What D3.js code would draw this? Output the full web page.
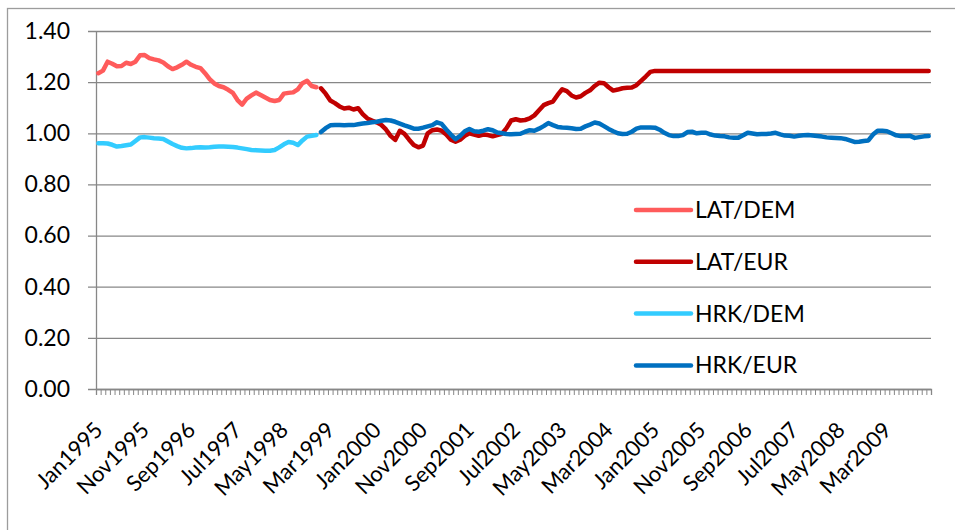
<!DOCTYPE html>
<html>
<head>
<meta charset="utf-8">
<script src="https://cdn.jsdelivr.net/npm/d3@7"></script>
<style>
  body { margin: 0; background: #fff; }
  svg { display: block; font-family: Lato, "Open Sans", sans-serif; }
</style>
</head>
<body>
<div id="chart"></div>
<script>
// monthly index, Jan1995 .. Dec2009 (180 months)
const monthCount = 180;
const tickLabels = ["Jan1995", "Nov1995", "Sep1996", "Jul1997", "May1998", "Mar1999",
  "Jan2000", "Nov2000", "Sep2001", "Jul2002", "May2003", "Mar2004", "Jan2005",
  "Nov2005", "Sep2006", "Jul2007", "May2008", "Mar2009"];
const labelStep = 10;
const yTicks = [0, 0.2, 0.4, 0.6, 0.8, 1.0, 1.2, 1.4];

// Jan1995 - Dec1998
const latDem = [1.235, 1.245, 1.28, 1.272, 1.262, 1.263, 1.276, 1.271, 1.28, 1.305,
  1.306, 1.294, 1.289, 1.285, 1.277, 1.262, 1.251, 1.258, 1.268, 1.28,
  1.268, 1.26, 1.255, 1.235, 1.212, 1.195, 1.185, 1.18, 1.17, 1.158,
  1.13, 1.112, 1.136, 1.148, 1.159, 1.15, 1.14, 1.13, 1.126, 1.13,
  1.155, 1.158, 1.16, 1.172, 1.196, 1.205, 1.185, 1.18];
const hrkDem = [0.961, 0.961, 0.96, 0.955, 0.948, 0.95, 0.953, 0.956, 0.97, 0.984,
  0.985, 0.983, 0.981, 0.98, 0.978, 0.968, 0.958, 0.95, 0.943, 0.941,
  0.942, 0.944, 0.945, 0.944, 0.945, 0.947, 0.948, 0.948, 0.947, 0.946,
  0.944, 0.941, 0.938, 0.935, 0.934, 0.933, 0.932, 0.932, 0.935, 0.945,
  0.957, 0.966, 0.963, 0.954, 0.972, 0.987, 0.99, 0.993];

// Jan1999 - Dec2009
const latEur = [1.176, 1.155, 1.128, 1.118, 1.105, 1.097, 1.1, 1.093, 1.098, 1.075,
  1.058, 1.05, 1.043, 1.033, 1.015, 0.99, 0.974, 1.01, 0.998, 0.975,
  0.954, 0.945, 0.952, 1.0, 1.012, 1.015, 1.01, 0.995, 0.975, 0.967,
  0.975, 0.99, 1.0, 0.995, 0.99, 0.995, 0.993, 0.988, 0.993, 0.998,
  1.02, 1.05, 1.055, 1.05, 1.052, 1.058, 1.07, 1.09, 1.11, 1.118,
  1.124, 1.15, 1.172, 1.165, 1.148, 1.14, 1.145, 1.158, 1.168, 1.185,
  1.198, 1.196, 1.18, 1.167, 1.171, 1.176, 1.178, 1.179, 1.188, 1.205,
  1.222, 1.24, 1.244, 1.244, 1.244, 1.244, 1.244, 1.244, 1.244, 1.244,
  1.244, 1.244, 1.244, 1.244, 1.244, 1.244, 1.244, 1.244, 1.244, 1.244,
  1.244, 1.244, 1.244, 1.244, 1.244, 1.244, 1.244, 1.244, 1.244, 1.244,
  1.244, 1.244, 1.244, 1.244, 1.244, 1.244, 1.244, 1.244, 1.244, 1.244,
  1.244, 1.244, 1.244, 1.244, 1.244, 1.244, 1.244, 1.244, 1.244, 1.244,
  1.244, 1.244, 1.244, 1.244, 1.244, 1.244, 1.244, 1.244, 1.244, 1.244,
  1.244, 1.244];
const hrkEur = [1.005, 1.02, 1.031, 1.032, 1.032, 1.031, 1.032, 1.032, 1.035, 1.038,
  1.04, 1.043, 1.045, 1.049, 1.052, 1.05, 1.045, 1.038, 1.031, 1.025,
  1.018, 1.018, 1.022, 1.027, 1.032, 1.043, 1.037, 1.015, 0.995, 0.977,
  0.99, 1.008, 1.017, 1.008, 1.006, 1.01, 1.016, 1.012, 1.003, 1.0,
  0.997, 0.996, 0.997, 0.998, 1.006, 1.012, 1.01, 1.018, 1.028, 1.04,
  1.032, 1.025, 1.023, 1.022, 1.02, 1.017, 1.018, 1.027, 1.034, 1.042,
  1.038, 1.028, 1.017, 1.008, 1.0, 0.997, 0.998, 1.006, 1.018, 1.023,
  1.023, 1.023, 1.022, 1.014, 1.002, 0.993, 0.989, 0.989, 0.993, 1.005,
  1.006, 1.0, 1.002, 1.002, 0.995, 0.991, 0.989, 0.988, 0.984, 0.983,
  0.983, 0.992, 1.002, 0.999, 0.996, 0.997, 0.997, 0.999, 1.002, 0.996,
  0.991, 0.99, 0.987, 0.99, 0.992, 0.993, 0.991, 0.989, 0.987, 0.984,
  0.983, 0.982, 0.981, 0.978, 0.972, 0.966, 0.967, 0.97, 0.972, 0.995,
  1.01, 1.01, 1.008, 1.0, 0.992, 0.989, 0.989, 0.99, 0.982, 0.985,
  0.988, 0.989];

const series = [
  { name: "LAT/DEM", start: 0, values: latDem, color: "#ff5b5b" },
  { name: "LAT/EUR", start: 48, values: latEur, color: "#c00000" },
  { name: "HRK/DEM", start: 0, values: hrkDem, color: "#33ccff" },
  { name: "HRK/EUR", start: 48, values: hrkEur, color: "#0070c0" }
];

const width = 955, height = 530;
const plot = { left: 96, right: 931, top: 31, bottom: 389 };
const gridColor = "#878787";
const fontSize = 23;

const svg = d3.select("#chart").append("svg")
  .attr("width", width)
  .attr("height", height);

// chart frame (right/bottom edges fall outside the picture)
svg.append("rect")
  .attr("x", 7.5).attr("y", 8.5)
  .attr("width", 1000).attr("height", 1000)
  .attr("fill", "none")
  .attr("stroke", "#9c9c9c")
  .attr("stroke-width", 1.3);

const x = d3.scaleBand()
  .domain(d3.range(monthCount))
  .range([plot.left, plot.right]);
const xEdge = d3.scaleLinear()
  .domain([0, monthCount])
  .range([plot.left, plot.right]);
const y = d3.scaleLinear()
  .domain([0, 1.4])
  .range([plot.bottom, plot.top]);

// gridlines + y tick marks
const grid = svg.append("g")
  .attr("transform", `translate(${plot.left - 8},0)`)
  .call(d3.axisRight(y).tickValues(yTicks).tickSize(plot.right - plot.left + 8).tickFormat(""));
grid.select(".domain").remove();
grid.selectAll("line").attr("stroke", gridColor).attr("stroke-width", 1.3);

// y labels
const yAxis = svg.append("g")
  .attr("transform", `translate(${plot.left},0)`)
  .call(d3.axisLeft(y).tickValues(yTicks).tickSize(0).tickPadding(26).tickFormat(d3.format(".2f")));
yAxis.select(".domain").attr("stroke", gridColor).attr("stroke-width", 1.3);
yAxis.selectAll("text")
  .attr("font-family", "Lato, 'Open Sans', sans-serif")
  .attr("font-size", fontSize)
  .attr("fill", "#000");

// x axis comb
const xComb = svg.append("g")
  .attr("transform", `translate(0,${plot.bottom})`)
  .call(d3.axisBottom(xEdge).tickValues(d3.range(monthCount + 1)).tickSize(6).tickFormat(""));
xComb.select(".domain").attr("stroke", gridColor).attr("stroke-width", 1.3);
xComb.selectAll("line").attr("stroke", gridColor).attr("stroke-width", 1);

// x labels
const xAxis = svg.append("g")
  .attr("transform", `translate(${x.bandwidth() / 2},${plot.bottom})`)
  .call(d3.axisBottom(x)
    .tickValues(tickLabels.map((d, i) => i * labelStep))
    .tickSize(0)
    .tickFormat(i => tickLabels[i / labelStep]));
xAxis.select(".domain").remove();
xAxis.selectAll("text")
  .attr("font-family", "Lato, 'Open Sans', sans-serif")
  .attr("font-size", 22)
  .attr("fill", "#000")
  .attr("text-anchor", "end")
  .attr("x", 0).attr("y", 0).attr("dy", "0.35em")
  .attr("transform", "translate(-2,37) rotate(-45)");

// lines
const line = d3.line()
  .x(d => x(d.i) + x.bandwidth() / 2)
  .y(d => y(d.v));

svg.append("g").selectAll("path")
  .data(series)
  .join("path")
  .attr("fill", "none")
  .attr("stroke", d => d.color)
  .attr("stroke-width", 4.5)
  .attr("stroke-linejoin", "round")
  .attr("stroke-linecap", "round")
  .attr("d", d => line(d.values.map((v, k) => ({ i: d.start + k, v: v }))));

// legend
const legend = svg.append("g").selectAll("g")
  .data(series)
  .join("g")
  .attr("transform", (d, i) => `translate(636,${210 + i * 51.8})`);
legend.append("line")
  .attr("x1", 0).attr("x2", 55)
  .attr("stroke", d => d.color)
  .attr("stroke-width", 4.5)
  .attr("stroke-linecap", "round");
legend.append("text")
  .attr("x", 59)
  .attr("dy", "0.35em")
  .attr("font-size", fontSize)
  .attr("fill", "#000")
  .text(d => d.name);
</script>
</body>
</html>
